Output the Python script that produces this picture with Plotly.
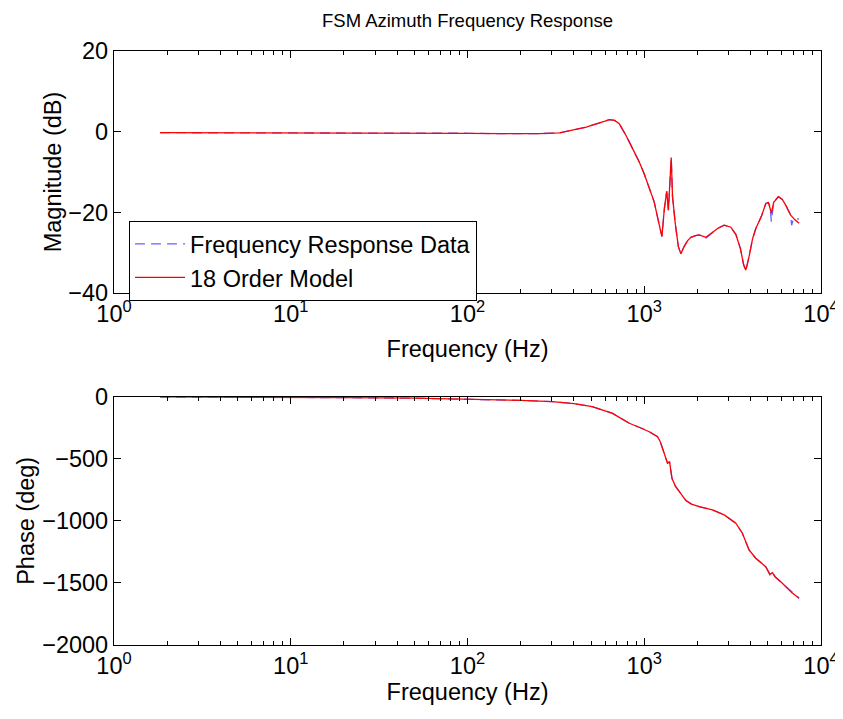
import plotly.graph_objects as go

# magnitude response
freq_mag = [1.82, 3, 5, 10, 20, 50, 100, 158, 255, 331, 411, 470, 508, 557, 600,
            634, 680, 722, 790, 859, 937, 1000, 1067, 1138, 1200, 1259, 1300, 1340,
            1370, 1400, 1421, 1435, 1445, 1500, 1560, 1611, 1680, 1760, 1836, 1950,
            2045, 2232, 2430, 2600, 2833, 3090, 3300, 3500, 3650, 3755, 3917, 4093,
            4278, 4600, 4873, 5039, 5150, 5236, 5400, 5742, 6044, 6310, 6736, 6823,
            6985, 7100, 7516]
mag_model = [-0.25, -0.25, -0.25, -0.25, -0.25, -0.3, -0.4, -0.5, -0.5, -0.3, 0.5,
             1.1, 1.6, 2.1, 2.6, 3.0, 2.8, 2.0, -1.0, -4.2, -7.5, -10.5, -14.0, -17.4,
             -22.0, -26.0, -19.0, -14.8, -19.5, -12.0, -6.4, -12.0, -16.1, -23.0,
             -28.5, -30.3, -28.5, -27.0, -26.2, -25.8, -25.6, -26.2, -25.0, -24.0,
             -23.2, -23.7, -25.5, -29.0, -33.0, -34.3, -31.0, -26.7, -24.0, -21.0,
             -17.8, -17.6, -19.0, -20.2, -17.5, -16.1, -16.8, -18.2, -20.7, -21.0,
             -21.5, -21.8, -22.7]
mag_data = [-0.25, -0.25, -0.25, -0.25, -0.25, -0.3, -0.4, -0.5, -0.5, -0.3, 0.5,
            1.1, 1.6, 2.1, 2.6, 3.0, 2.8, 2.0, -1.0, -4.2, -7.5, -10.5, -14.0, -17.4,
            -22.0, -26.0, -19.0, -14.8, -19.5, -12.0, -6.6, -12.0, -16.1, -23.0,
            -28.5, -30.3, -28.5, -27.0, -26.2, -25.8, -25.6, -26.4, -25.0, -24.0,
            -23.2, -23.7, -25.5, -29.0, -33.0, -34.6, -31.0, -26.7, -24.0, -21.0,
            -17.8, -17.6, -18.5, -22.3, -17.5, -16.1, -16.8, -18.2, -20.7, -23.2,
            -21.5, -21.5, -21.7]

# phase response
freq_phase = [1.82, 5, 10, 20, 50, 100, 200, 302, 400, 508, 557, 662, 722, 823, 950,
              1067, 1189, 1230, 1268, 1310, 1354, 1390, 1410, 1435, 1500, 1578, 1721,
              1850, 2045, 2431, 2833, 3297, 3591, 3917, 4273, 4866, 5150, 5308, 5500,
              6044, 6823, 7516]
phase_model = [-2, -3, -5, -7, -12, -19, -30, -40, -55, -80, -100, -134, -166, -214,
               -250, -282, -322, -360, -415, -470, -536, -523, -600, -657, -720, -765,
               -837, -865, -885, -912, -952, -1019, -1100, -1234, -1301, -1369, -1430,
               -1417, -1450, -1503, -1578, -1623]
phase_data = [-2, -3, -5, -7, -12, -19, -30, -40, -55, -80, -100, -134, -166, -214,
              -250, -282, -322, -360, -415, -470, -536, -523, -600, -657, -720, -765,
              -837, -865, -885, -912, -952, -1019, -1100, -1234, -1301, -1369, -1440,
              -1417, -1450, -1503, -1572, -1623]

decades = [1, 10, 100, 1000, 10000]
decade_labels = ['10<sup>0</sup>', '10<sup>1</sup>', '10<sup>2</sup>', '10<sup>3</sup>', '10<sup>4</sup>']

font_name = 'Liberation Sans'
data_style = dict(color='#6464ff', width=1.3, dash='10px,6px')
model_style = dict(color='#ff0000', width=1.3)

fig = go.Figure()
fig.add_trace(go.Scatter(name='Frequency Response Data', x=freq_mag, y=mag_data,
                         mode='lines', line=data_style, xaxis='x', yaxis='y'))
fig.add_trace(go.Scatter(name='18 Order Model', x=freq_mag, y=mag_model,
                         mode='lines', line=model_style, xaxis='x', yaxis='y'))
fig.add_trace(go.Scatter(name='Frequency Response Data', x=freq_phase, y=phase_data,
                         mode='lines', line=data_style, xaxis='x2', yaxis='y2',
                         showlegend=False))
fig.add_trace(go.Scatter(name='18 Order Model', x=freq_phase, y=phase_model,
                         mode='lines', line=model_style, xaxis='x2', yaxis='y2',
                         showlegend=False))

minor_vals = [m * d for d in decades[:-1] for m in range(2, 10)]


def xaxis_style(anchor, standoff):
    return dict(type='log', range=[0, 4], anchor=anchor,
                tickmode='array', tickvals=decades, ticktext=decade_labels,
                ticks='inside', ticklen=7, tickcolor='black',
                ticklabeloverflow='allow',
                minor=dict(tickmode='array', tickvals=minor_vals, ticks='inside',
                           ticklen=4, tickcolor='black', showgrid=False),
                showline=True, linecolor='black', linewidth=1.2, mirror='ticks',
                showgrid=False, zeroline=False,
                title=dict(text='Frequency (Hz)', standoff=standoff, font=dict(size=23.5)),
                tickfont=dict(size=23.5))


def yaxis_style(anchor, domain, rng, step, title):
    return dict(domain=domain, range=rng, dtick=step, anchor=anchor,
                ticks='inside', ticklen=7, tickcolor='black',
                showline=True, linecolor='black', linewidth=1.2, mirror='ticks',
                showgrid=False, zeroline=False,
                title=dict(text=title, standoff=0, font=dict(size=23.5)),
                tickfont=dict(size=23.5))


fig.update_layout(
    width=843, height=719,
    margin=dict(l=106, r=21, t=43, b=82),
    paper_bgcolor='white', plot_bgcolor='white',
    font=dict(family=font_name, size=23.5, color='black'),
    title=dict(text='FSM Azimuth Frequency Response', font=dict(size=18.5),
               x=0.5, xref='paper', y=1 - 13 / 719, yref='container',
               xanchor='center', yanchor='middle'),
    xaxis=xaxis_style('y', 14),
    yaxis=yaxis_style('x', [0.5926, 1.0], [-40, 20], 20, 'Magnitude (dB)'),
    xaxis2=xaxis_style('y2', 5),
    yaxis2=yaxis_style('x2', [0.0, 0.418], [-2000, 0], 500, 'Phase (deg)'),
    legend=dict(x=0.021, y=0.714, xanchor='left', yanchor='top',
                bgcolor='white', bordercolor='black', borderwidth=1.2,
                font=dict(size=23.5), tracegroupgap=0, itemwidth=50),
    showlegend=True,
)

fig.write_html('out.html')
